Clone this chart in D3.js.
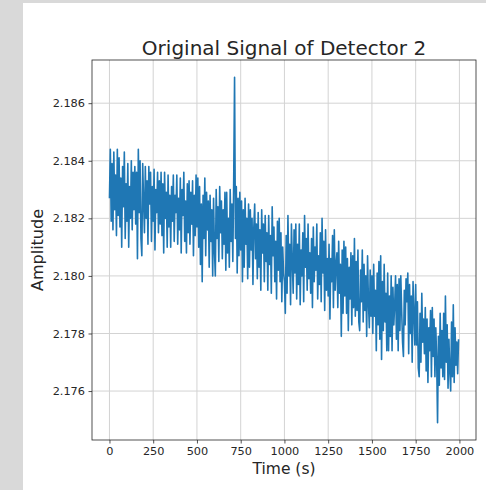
<!DOCTYPE html>
<html>
<head>
<meta charset="utf-8">
<script src="https://cdn.jsdelivr.net/npm/d3@7"></script>
<style>
  html, body { margin: 0; padding: 0; background: #d9d9d9; }
  svg { display: block; font-family: "DejaVu Sans", sans-serif; }
</style>
</head>
<body>
<script>
// detector 2 readings, one every 5 s
const amplitude = [
  2.1827, 2.1844, 2.1819, 2.1839, 2.1816, 2.1843, 2.1823, 2.1835, 2.1814, 2.1844,
  2.1821, 2.1841, 2.1817, 2.1834, 2.1810, 2.1838, 2.1824, 2.1843, 2.1813, 2.1832,
  2.1819, 2.1839, 2.1810, 2.1831, 2.1820, 2.1840, 2.1816, 2.1836, 2.1823, 2.1838,
  2.1818, 2.1836, 2.1806, 2.1844, 2.1822, 2.1840, 2.1813, 2.1807, 2.1839, 2.1826,
  2.1815, 2.1838, 2.1820, 2.1833, 2.1811, 2.1838, 2.1825, 2.1836, 2.1812, 2.1831,
  2.1819, 2.1837, 2.1809, 2.1830, 2.1822, 2.1836, 2.1815, 2.1833, 2.1818, 2.1836,
  2.1814, 2.1832, 2.1808, 2.1836, 2.1820, 2.1829, 2.1810, 2.1835, 2.1817, 2.1828,
  2.1810, 2.1831, 2.1819, 2.1835, 2.1812, 2.1828, 2.1822, 2.1835, 2.1811, 2.1827,
  2.1816, 2.1834, 2.1808, 2.1830, 2.1821, 2.1836, 2.1812, 2.1826, 2.1808, 2.1832,
  2.1815, 2.1833, 2.1811, 2.1829, 2.1818, 2.1833, 2.1807, 2.1828, 2.1814, 2.1835,
  // 500 s
  2.1817, 2.1834, 2.1810, 2.1831, 2.1804, 2.1825, 2.1798, 2.1828, 2.1813, 2.1834,
  2.1807, 2.1829, 2.1816, 2.1826, 2.1803, 2.1828, 2.1812, 2.1823, 2.1800, 2.1827,
  2.1809, 2.1800, 2.1830, 2.1813, 2.1824, 2.1805, 2.1831, 2.1815, 2.1826, 2.1806,
  2.1823, 2.1811, 2.1829, 2.1802, 2.1829, 2.1808, 2.1820, 2.1803, 2.1830, 2.1812,
  2.1825, 2.1805, 2.1833, 2.1869, 2.1813, 2.1831, 2.1801, 2.1827, 2.1807, 2.1829,
  2.1809, 2.1826, 2.1798, 2.1823, 2.1803, 2.1827, 2.1811, 2.1820, 2.1799, 2.1825,
  2.1803, 2.1823, 2.1809, 2.1820, 2.1797, 2.1817, 2.1825, 2.1806, 2.1818, 2.1799,
  2.1822, 2.1803, 2.1816, 2.1795, 2.1823, 2.1808, 2.1818, 2.1798, 2.1821, 2.1805,
  2.1815, 2.1795, 2.1821, 2.1804, 2.1814, 2.1794, 2.1824, 2.1807, 2.1817, 2.1798,
  2.1812, 2.1792, 2.1819, 2.1802, 2.1820, 2.1798, 2.1815, 2.1791, 2.1810, 2.1801,
  // 1000 s
  2.1798, 2.1787, 2.1814, 2.1794, 2.1821, 2.1800, 2.1811, 2.1790, 2.1818, 2.1805,
  2.1794, 2.1816, 2.1801, 2.1818, 2.1792, 2.1811, 2.1797, 2.1818, 2.1790, 2.1809,
  2.1800, 2.1815, 2.1791, 2.1821, 2.1803, 2.1813, 2.1795, 2.1818, 2.1799, 2.1808,
  2.1794, 2.1813, 2.1789, 2.1817, 2.1798, 2.1810, 2.1802, 2.1818, 2.1792, 2.1807,
  2.1797, 2.1815, 2.1791, 2.1820, 2.1801, 2.1812, 2.1788, 2.1816, 2.1795, 2.1806,
  2.1793, 2.1811, 2.1785, 2.1806, 2.1798, 2.1814, 2.1789, 2.1816, 2.1795, 2.1804,
  2.1808, 2.1789, 2.1812, 2.1794, 2.1804, 2.1779, 2.1809, 2.1787, 2.1812, 2.1793,
  2.1810, 2.1787, 2.1806, 2.1781, 2.1803, 2.1792, 2.1808, 2.1783, 2.1807, 2.1789,
  2.1813, 2.1786, 2.1805, 2.1788, 2.1809, 2.1784, 2.1781, 2.1802, 2.1791, 2.1809,
  2.1784, 2.1804, 2.1788, 2.1800, 2.1779, 2.1807, 2.1791, 2.1782, 2.1802, 2.1786,
  // 1500 s
  2.1800, 2.1780, 2.1804, 2.1786, 2.1795, 2.1774, 2.1801, 2.1783, 2.1805, 2.1778,
  2.1807, 2.1771, 2.1798, 2.1781, 2.1804, 2.1784, 2.1794, 2.1774, 2.1801, 2.1774,
  2.1793, 2.1779, 2.1800, 2.1774, 2.1796, 2.1783, 2.1790, 2.1800, 2.1778, 2.1797,
  2.1774, 2.1799, 2.1781, 2.1800, 2.1788, 2.1777, 2.1772, 2.1795, 2.1783, 2.1799,
  2.1791, 2.1801, 2.1773, 2.1797, 2.1780, 2.1793, 2.1770, 2.1798, 2.1787, 2.1776,
  2.1797, 2.1776, 2.1791, 2.1768, 2.1765, 2.1787, 2.1770, 2.1794, 2.1777, 2.1785,
  2.1773, 2.1789, 2.1767, 2.1785, 2.1763, 2.1782, 2.1774, 2.1788, 2.1765, 2.1789,
  2.1772, 2.1785, 2.1765, 2.1782, 2.1771, 2.1749, 2.1779, 2.1762, 2.1787, 2.1768,
  2.1781, 2.1765, 2.1787, 2.1764, 2.1793, 2.1770, 2.1783, 2.1761, 2.1778, 2.1767,
  2.1760, 2.1784, 2.1765, 2.1790, 2.1763, 2.1782, 2.1769, 2.1777, 2.1766, 2.1778
]
const time = d3.range(0, amplitude.length * 5, 5)

const xTicks = [0, 250, 500, 750, 1000, 1250, 1500, 1750, 2000]
const yTicks = [2.176, 2.178, 2.180, 2.182, 2.184, 2.186]

const width = 486, height = 490
const margin = { left: 92, right: 10, top: 60, bottom: 50 }

function drawChart() {
    var svg = d3.select('body')
        .append('svg')
        .attr('width', width)
        .attr('height', height)

    // white figure panel over the grey page
    svg.append('rect')
        .attr('x', 23)
        .attr('y', 3)
        .attr('width', width - 23)
        .attr('height', height - 3)
        .attr('fill', 'white')

    var tExt = d3.extent(time)
    var aExt = d3.extent(amplitude)
    var tPad = (tExt[1] - tExt[0]) * 0.05
    var aPad = (aExt[1] - aExt[0]) * 0.05

    var x = d3.scaleLinear()
        .domain([tExt[0] - tPad, tExt[1] + tPad])
        .range([margin.left, width - margin.right])

    var y = d3.scaleLinear()
        .domain([aExt[0] - aPad, aExt[1] + aPad])
        .range([height - margin.bottom, margin.top])

    // grid
    svg.append('g')
        .selectAll('line')
        .data(xTicks)
        .enter()
        .append('line')
        .attr('x1', function(d) { return x(d) })
        .attr('x2', function(d) { return x(d) })
        .attr('y1', margin.top)
        .attr('y2', height - margin.bottom)
        .attr('stroke', '#d3d3d3')
        .attr('stroke-width', 1)

    svg.append('g')
        .selectAll('line')
        .data(yTicks)
        .enter()
        .append('line')
        .attr('x1', margin.left)
        .attr('x2', width - margin.right)
        .attr('y1', function(d) { return y(d) })
        .attr('y2', function(d) { return y(d) })
        .attr('stroke', '#d3d3d3')
        .attr('stroke-width', 1)

    var line = d3.line()
        .x(function(d, i) { return x(time[i]) })
        .y(function(d) { return y(d) })

    svg.append('path')
        .datum(amplitude)
        .attr('d', line)
        .attr('fill', 'none')
        .attr('stroke', '#1f77b4')
        .attr('stroke-width', 1.6)
        .attr('stroke-linejoin', 'round')

    // axes
    var xAxis = svg.append('g')
        .attr('transform', 'translate(0,' + (height - margin.bottom) + ')')
        .call(d3.axisBottom(x).tickValues(xTicks).tickFormat(d3.format('d')).tickSize(3.5).tickPadding(3.5).tickSizeOuter(0))

    var yAxis = svg.append('g')
        .attr('transform', 'translate(' + margin.left + ',0)')
        .call(d3.axisLeft(y).tickValues(yTicks).tickFormat(d3.format('.3f')).tickSize(3.5).tickPadding(3.5).tickSizeOuter(0))

    ;[xAxis, yAxis].forEach(function(g) {
        g.selectAll('text')
            .attr('fill', '#262626')
            .style('font-size', '11.3px')
            .style('font-family', '"DejaVu Sans", sans-serif')
        g.selectAll('line').attr('stroke', '#262626').attr('stroke-width', 0.8)
        g.select('.domain').remove()
    })

    // frame
    svg.append('rect')
        .attr('x', margin.left)
        .attr('y', margin.top)
        .attr('width', width - margin.left - margin.right)
        .attr('height', height - margin.top - margin.bottom)
        .attr('fill', 'none')
        .attr('stroke', '#262626')
        .attr('stroke-width', 0.8)

    svg.append('text')
        .text('Original Signal of Detector 2')
        .attr('x', (margin.left + width - margin.right) / 2)
        .attr('y', 55)
        .attr('text-anchor', 'middle')
        .attr('fill', '#262626')
        .style('font-size', '20px')

    svg.append('text')
        .text('Time (s)')
        .attr('x', (margin.left + width - margin.right) / 2)
        .attr('y', 474)
        .attr('text-anchor', 'middle')
        .attr('fill', '#262626')
        .style('font-size', '15.5px')

    svg.append('text')
        .text('Amplitude')
        .attr('transform', 'translate(43,' + ((margin.top + height - margin.bottom) / 2) + ') rotate(-90)')
        .attr('text-anchor', 'middle')
        .attr('fill', '#262626')
        .style('font-size', '16px')
}

drawChart()
</script>
</body>
</html>
